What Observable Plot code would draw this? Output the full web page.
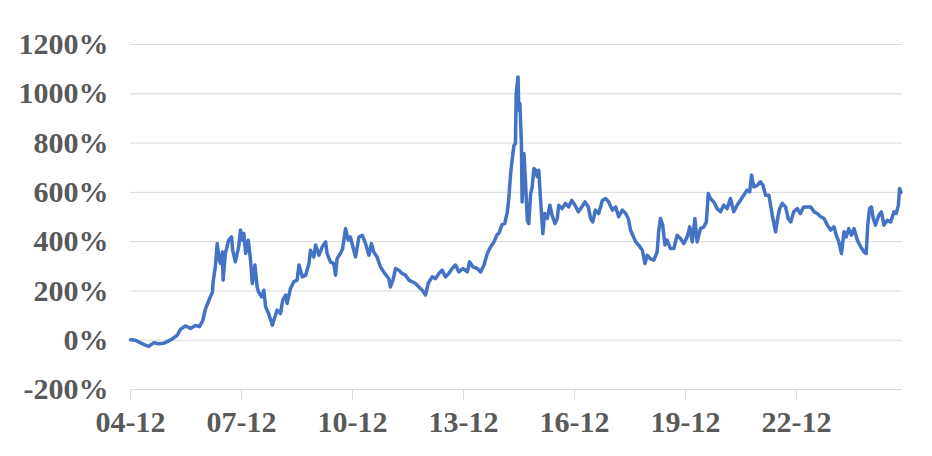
<!DOCTYPE html>
<html>
<head>
<meta charset="utf-8">
<script src="https://cdn.jsdelivr.net/npm/d3@7"></script>
<script src="https://cdn.jsdelivr.net/npm/@observablehq/plot@0.6"></script>
<style>
  html, body { margin: 0; padding: 0; background: #fff; }
</style>
</head>
<body>
<div id="chart"></div>
<script>
// decimal-year time stamps
const dates = [
  2004.92, 2005.05, 2005.19, 2005.32, 2005.41, 2005.55, 2005.68, 2005.82, 2005.92, 2006.04,
  2006.18, 2006.27, 2006.40, 2006.54, 2006.67, 2006.78, 2006.87, 2006.94, 2007.03, 2007.13,
  2007.15, 2007.21, 2007.26, 2007.31, 2007.35, 2007.40, 2007.42, 2007.48, 2007.57, 2007.65,
  2007.68, 2007.75, 2007.84, 2007.89, 2007.94, 2007.98, 2008.03, 2008.10, 2008.16, 2008.21,
  2008.28, 2008.34, 2008.38, 2008.46, 2008.52, 2008.57, 2008.65, 2008.75, 2008.79, 2008.88,
  2008.97, 2009.03, 2009.11, 2009.15, 2009.24, 2009.33, 2009.42, 2009.47, 2009.56, 2009.65,
  2009.74, 2009.78, 2009.87, 2009.92, 2010.01, 2010.10, 2010.19, 2010.23, 2010.32, 2010.41,
  2010.46, 2010.50, 2010.59, 2010.65, 2010.73, 2010.80, 2010.86, 2010.95, 2011.00, 2011.09,
  2011.18, 2011.27, 2011.36, 2011.43, 2011.49, 2011.58, 2011.67, 2011.76, 2011.86, 2011.90,
  2011.94, 2012.01, 2012.08, 2012.17, 2012.26, 2012.35, 2012.44, 2012.53, 2012.62, 2012.71,
  2012.80, 2012.89, 2012.96, 2013.07, 2013.16, 2013.25, 2013.34, 2013.43, 2013.52, 2013.61,
  2013.70, 2013.79, 2013.90, 2014.02, 2014.08, 2014.17, 2014.29, 2014.38, 2014.47, 2014.56,
  2014.65, 2014.74, 2014.83, 2014.87, 2014.96, 2015.03, 2015.10, 2015.14, 2015.19, 2015.23,
  2015.28, 2015.32, 2015.34, 2015.39, 2015.41, 2015.44, 2015.48, 2015.50, 2015.55, 2015.59,
  2015.64, 2015.68, 2015.73, 2015.77, 2015.82, 2015.86, 2015.91, 2015.95, 2016.00, 2016.06,
  2016.11, 2016.18, 2016.25, 2016.31, 2016.39, 2016.45, 2016.49, 2016.58, 2016.67, 2016.76,
  2016.84, 2016.93, 2017.02, 2017.11, 2017.20, 2017.29, 2017.35, 2017.41, 2017.48, 2017.57,
  2017.67, 2017.76, 2017.84, 2017.94, 2018.03, 2018.11, 2018.21, 2018.30, 2018.37, 2018.43,
  2018.49, 2018.57, 2018.65, 2018.75, 2018.82, 2018.88, 2018.97, 2019.06, 2019.15, 2019.19,
  2019.24, 2019.30, 2019.36, 2019.42, 2019.51, 2019.60, 2019.69, 2019.78, 2019.87, 2019.96,
  2020.03, 2020.10, 2020.17, 2020.23, 2020.32, 2020.41, 2020.48, 2020.53, 2020.59, 2020.68,
  2020.77, 2020.86, 2020.95, 2021.04, 2021.13, 2021.22, 2021.31, 2021.40, 2021.49, 2021.58,
  2021.65, 2021.70, 2021.76, 2021.86, 2021.94, 2022.01, 2022.08, 2022.17, 2022.26, 2022.35,
  2022.42, 2022.46, 2022.53, 2022.62, 2022.69, 2022.76, 2022.84, 2022.94, 2023.02, 2023.11,
  2023.21, 2023.30, 2023.39, 2023.48, 2023.57, 2023.66, 2023.75, 2023.84, 2023.93, 2023.99,
  2024.06, 2024.13, 2024.20, 2024.26, 2024.33, 2024.40, 2024.47, 2024.56, 2024.65, 2024.74,
  2024.80, 2024.84, 2024.89, 2024.94, 2024.99, 2025.05, 2025.14, 2025.21, 2025.28, 2025.37,
  2025.46, 2025.55, 2025.61, 2025.67, 2025.70, 2025.74
];

// cumulative return, percent
const values = [
  2, 0, -11, -20, -25, -10, -14, -12, -5, 5,
  20, 45, 58, 48, 60, 55, 80, 125, 160, 195,
  237, 298, 392, 330, 311, 358, 244, 352, 406, 419,
  365, 318, 379, 447, 406, 433, 352, 406, 325, 230,
  305, 216, 195, 176, 203, 135, 108, 61, 81, 122,
  108, 162, 183, 149, 210, 237, 244, 305, 257, 264,
  311, 365, 338, 386, 345, 379, 399, 352, 318, 311,
  264, 331, 352, 372, 453, 406, 419, 365, 338, 419,
  426, 392, 345, 392, 358, 338, 298, 277, 257, 250,
  216, 244, 291, 284, 271, 264, 244, 237, 230, 216,
  203, 183, 230, 257, 250, 271, 284, 257, 271, 291,
  305, 277, 291, 277, 318, 298, 291, 277, 305, 352,
  379, 399, 430, 433, 470, 473, 520, 575, 676, 731,
  791, 798, 1001, 1068, 934, 961, 805, 561, 758, 649,
  487, 473, 595, 620, 697, 690, 663, 690, 568, 433,
  514, 494, 548, 507, 473, 494, 548, 534, 555, 541,
  568, 548, 521, 541, 561, 541, 494, 480, 528, 514,
  568, 575, 561, 528, 541, 501, 528, 514, 494, 447,
  426, 399, 386, 365, 311, 345, 330, 325, 358, 440,
  494, 467, 386, 406, 372, 372, 426, 413, 392, 419,
  460, 399, 494, 399, 453, 460, 480, 595, 575, 561,
  534, 521, 548, 534, 575, 521, 548, 568, 588, 609,
  602, 670, 622, 629, 643, 629, 588, 588, 507, 440,
  507, 534, 555, 541, 494, 480, 521, 534, 514, 541,
  541, 541, 521, 514, 501, 494, 467, 447, 460, 426,
  399, 352, 440, 419, 453, 426, 453, 406, 379, 358,
  352, 467, 534, 541, 494, 467, 507, 521, 467, 487,
  480, 521, 514, 548, 616, 600
];

const xTicks = [2004.917, 2007.917, 2010.917, 2013.917, 2016.917, 2019.917, 2022.917];
const xTickLabels = ["04-12", "07-12", "10-12", "13-12", "16-12", "19-12", "22-12"];
const yTicks = [-200, 0, 200, 400, 600, 800, 1000, 1200];

const data = dates.map((d, i) => ({date: d, value: values[i]}));

const chart = Plot.plot({
  width: 932,
  height: 456,
  marginLeft: 130,
  marginRight: 30,
  marginTop: 44,
  marginBottom: 67,
  style: {
    fontFamily: "'Liberation Serif', serif",
    fontWeight: "bold",
    fontSize: "30px",
    color: "#595959",
    background: "#fff"
  },
  x: {type: "linear", domain: [2004.917, 2025.78]},
  y: {domain: [-200, 1200]},
  marks: [
    Plot.gridY(yTicks, {stroke: "#d9d9d9", strokeOpacity: 1, strokeWidth: 1}),
    Plot.axisY(yTicks, {tickSize: 0, tickPadding: 22, tickFormat: d => d + "%", fill: "#595959", label: null}),
    Plot.axisX(xTicks, {
      tickSize: 11, tickPadding: 10, stroke: "#d9d9d9", fill: "#595959",
      tickFormat: (d, i) => xTickLabels[i], label: null
    }),
    Plot.line(data, {x: "date", y: "value", stroke: "#4472C4", strokeWidth: 3.5, strokeLinejoin: "round", strokeLinecap: "round"})
  ]
});

document.getElementById("chart").appendChild(chart);
</script>
</body>
</html>
